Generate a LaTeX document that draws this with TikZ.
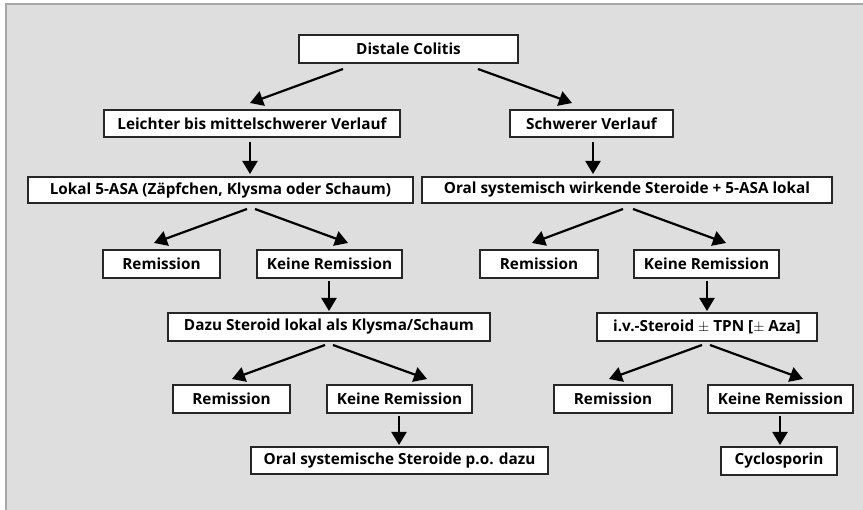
\documentclass[tikz,border=0pt]{standalone}
\usepackage{fontspec}
\setmainfont{Open Sans}
\usetikzlibrary{arrows.meta}
\definecolor{bgfill}{HTML}{DEDEDE}
\definecolor{frameline}{HTML}{A8A8A8}
\begin{document}
\begin{tikzpicture}[x=1pt,y=-1pt,
  box/.style={draw=black!85,line width=1.2pt,fill=white,inner sep=0pt,
    font=\fontsize{15.3}{17}\selectfont\bfseries,anchor=center},
  arr/.style={line width=2.2pt,-{Triangle[length=13pt,width=15pt]}}]
\useasboundingbox (0,0) rectangle (863,510);
\fill[white] (0,0) rectangle (863,510);
\fill[bgfill] (5,3) rectangle (863,510);
\draw[frameline,line width=2pt] (6,510) -- (6,4) -- (863,4);
% nodes
\node[box,minimum width=219pt,minimum height=28pt] (dc) at (408.5,49) {Distale Colitis};
\node[box,minimum width=296pt,minimum height=27pt] (lm) at (252,123.5) {Leichter bis mittelschwerer Verlauf};
\node[box,minimum width=163pt,minimum height=27pt] (sv) at (591.5,123.5) {Schwerer Verlauf};
\node[box,minimum width=385pt,minimum height=26pt] (lk) at (220.5,190) {Lokal 5-ASA (Zäpfchen, Klysma oder Schaum)};
\node[box,minimum width=410pt,minimum height=26pt] (os) at (627,190) {Oral systemisch wirkende Steroide + 5-ASA lokal};
\node[box,minimum width=117pt,minimum height=28pt] (r1) at (161.5,264) {Remission};
\node[box,minimum width=145pt,minimum height=28pt] (k1) at (329.5,264) {Keine Remission};
\node[box,minimum width=118pt,minimum height=28pt] (r2) at (539,264) {Remission};
\node[box,minimum width=145pt,minimum height=28pt] (k2) at (706.5,264) {Keine Remission};
\node[box,minimum width=322pt,minimum height=28pt] (ds) at (329,327) {Dazu Steroid lokal als Klysma/Schaum};
\node[box,minimum width=220pt,minimum height=28pt] (iv) at (707,327) {i.v.-Steroid $\pm$ TPN [$\pm$ Aza]};
\node[box,minimum width=117pt,minimum height=28pt] (r3) at (231.5,399) {Remission};
\node[box,minimum width=145pt,minimum height=28pt] (k3) at (399.5,399) {Keine Remission};
\node[box,minimum width=118pt,minimum height=28pt] (r4) at (613,399) {Remission};
\node[box,minimum width=145pt,minimum height=28pt] (k4) at (780.5,399) {Keine Remission};
\node[box,minimum width=297pt,minimum height=27pt] (po) at (399.5,460.5) {Oral systemische Steroide p.o. dazu};
\node[box,minimum width=116pt,minimum height=28pt] (cy) at (779,461) {Cyclosporin};
% connector endpoints
\coordinate (a1s) at (343,69);  \coordinate (a1e) at (250,103);
\coordinate (a2s) at (478,69);  \coordinate (a2e) at (572,103);
\coordinate (a3s) at (250,142); \coordinate (a3e) at (250,174);
\coordinate (a4s) at (593,142); \coordinate (a4e) at (593,174);
\coordinate (a5s) at (247,209); \coordinate (a5e) at (154,243);
\coordinate (a6s) at (255,209); \coordinate (a6e) at (348,243);
\coordinate (a7s) at (623,209); \coordinate (a7e) at (532,243);
\coordinate (a8s) at (633,209); \coordinate (a8e) at (726,243);
\coordinate (a9s) at (329,281); \coordinate (a9e) at (329,311);
\coordinate (b1s) at (707,281); \coordinate (b1e) at (707,311);
\coordinate (b2s) at (325,345); \coordinate (b2e) at (232,379);
\coordinate (b3s) at (333,345); \coordinate (b3e) at (427,379);
\coordinate (b4s) at (702,345); \coordinate (b4e) at (609,379);
\coordinate (b5s) at (710,345); \coordinate (b5e) at (803,379);
\coordinate (b6s) at (399,416); \coordinate (b6e) at (399,445);
\coordinate (b7s) at (780,416); \coordinate (b7e) at (780,445);
\foreach \s/\e in {a1s/a1e,a2s/a2e,a3s/a3e,a4s/a4e,a5s/a5e,a6s/a6e,a7s/a7e,a8s/a8e,a9s/a9e,b1s/b1e,b2s/b2e,b3s/b3e,b4s/b4e,b5s/b5e,b6s/b6e,b7s/b7e}
  \draw[arr] (\s) -- (\e);
\end{tikzpicture}
\end{document}
